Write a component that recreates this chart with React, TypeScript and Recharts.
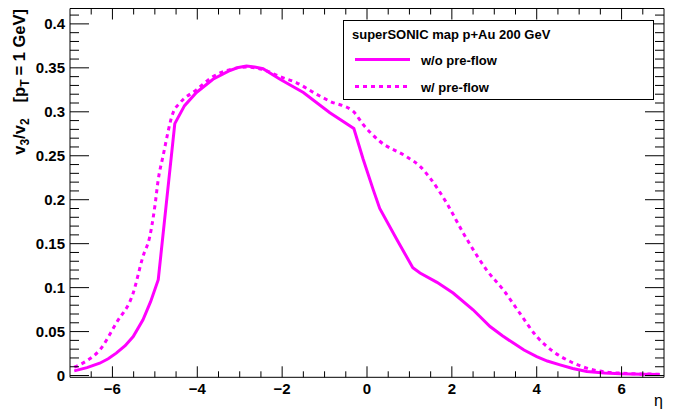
import { Legend, Line, LineChart, XAxis, YAxis } from 'recharts'

// eta values and v3/v2
const etaNoPreflow = [
  -6.9, -6.6, -6.3, -6.1, -5.91, -5.7, -5.51, -5.28, -5.1, -4.92, -4.53, -4.3,
  -4.02, -3.63, -3.23, -3.03, -2.84, -2.65, -2.45, -2.05, -1.5, -0.875, -0.31,
  -0.09, 0.146, 0.3, 0.7, 1.08, 1.25, 1.65, 2.03, 2.5, 2.9, 3.2, 3.45, 3.7, 4.0,
  4.25, 4.55, 4.85, 5.18, 5.6, 5.97, 6.5, 6.9,
]
const v32NoPreflow = [
  0.0053, 0.009, 0.014, 0.019, 0.0255, 0.034, 0.0444, 0.0634, 0.084, 0.109,
  0.2866, 0.307, 0.322, 0.337, 0.347, 0.3505, 0.352, 0.351, 0.349, 0.337, 0.322,
  0.299, 0.281, 0.246, 0.2115, 0.19, 0.155, 0.1226, 0.1166, 0.106, 0.0938,
  0.0748, 0.0558, 0.045, 0.0369, 0.029, 0.0216, 0.0165, 0.0122, 0.008, 0.0046,
  0.003, 0.002, 0.0015, 0.0012,
]

const etaPreflow = [
  -6.9, -6.6, -6.3, -5.91, -5.51, -5.28, -5.12, -5.0, -4.92, -4.81, -4.57,
  -4.41, -4.02, -3.63, -3.23, -2.84, -2.45, -2.05, -1.66, -1.19, -0.875, -0.33,
  -0.09, 0.3, 0.93, 1.25, 1.48, 1.88, 2.27, 2.43, 2.82, 3.21, 3.6, 4.0, 4.39,
  4.79, 5.18, 5.65, 5.97, 6.5, 6.9,
]
const v32Preflow = [
  0.0095, 0.017, 0.029, 0.0597, 0.094, 0.1355, 0.158, 0.1925, 0.223, 0.249,
  0.299, 0.31, 0.325, 0.34, 0.348, 0.351, 0.348, 0.34, 0.333, 0.32, 0.312,
  0.3007, 0.2855, 0.2665, 0.249, 0.238, 0.225, 0.196, 0.162, 0.149, 0.12,
  0.0976, 0.071, 0.0444, 0.0273, 0.016, 0.0084, 0.0039, 0.0027, 0.0018, 0.0015,
]

const X_DOMAIN = [-7, 7]
const Y_DOMAIN = [-0.002, 0.4175]
const xTicks = Array.from({ length: 27 }, (_, i) => -6.5 + i * 0.5)
const yTicks = Array.from({ length: 42 }, (_, i) => i / 100)

const FONT = '"Liberation Sans", Arial, Helvetica, sans-serif'
const MAGENTA = '#ff00ff'
const LEGEND_ORDER = ['w/o pre-flow', 'w/ pre-flow']

const noPreflow = etaNoPreflow.map((eta, i) => ({ eta, v: v32NoPreflow[i] }))
const preflow = etaPreflow.map((eta, i) => ({ eta, v: v32Preflow[i] }))

const isMajorX = (v: number) => Math.abs(v / 2 - Math.round(v / 2)) < 1e-6
const isMajorY = (v: number) => Math.round(v * 100) % 5 === 0
const fmtX = (v: number) => (v < 0 ? `\u2212${-v}` : `${v}`)

const BottomTick = ({ x, y, payload }: any) => {
  const major = isMajorX(payload.value)
  return (
    <g>
      <line x1={x} x2={x} y1={y} y2={y - (major ? 11 : 6)} stroke="#000" />
      {major && (
        <text x={x} y={y + 17} textAnchor="middle" fontFamily={FONT} fontWeight="bold" fontSize={15} fill="#000">
          {fmtX(payload.value)}
        </text>
      )}
    </g>
  )
}

const TopTick = ({ x, y, payload }: any) => (
  <line x1={x} x2={x} y1={y} y2={y + (isMajorX(payload.value) ? 11 : 6)} stroke="#000" />
)

const LeftTick = ({ x, y, payload }: any) => {
  const major = isMajorY(payload.value)
  return (
    <g>
      <line x1={x} x2={x + (major ? 19 : 9)} y1={y} y2={y} stroke="#000" />
      {major && (
        <text x={x - 5} y={y + 5.5} textAnchor="end" fontFamily={FONT} fontWeight="bold" fontSize={15} fill="#000">
          {payload.value}
        </text>
      )}
    </g>
  )
}

const RightTick = ({ x, y, payload }: any) => (
  <line x1={x} x2={x - (isMajorY(payload.value) ? 19 : 9)} y1={y} y2={y} stroke="#000" />
)

const YTitle = ({ viewBox }: any) => {
  const bx = viewBox.x + 15
  return (
    <text transform="rotate(-90)" x={-9} y={bx} textAnchor="end" fontFamily={FONT} fontWeight="bold" fontSize={16.5} fill="#000">
      <tspan>v</tspan>
      <tspan dy={4} fontSize={12}>3</tspan>
      <tspan dy={-4}>/v</tspan>
      <tspan dy={4} fontSize={12}>2</tspan>
      <tspan dy={-4} dx={16}>[p</tspan>
      <tspan dy={4} fontSize={12}>T</tspan>
      <tspan dy={-4} dx={4}>= 1 GeV]</tspan>
    </text>
  )
}

const XTitle = ({ viewBox }: any) => (
  <text x={viewBox.x + viewBox.width - 1} y={viewBox.y + 29} textAnchor="end" fontFamily={FONT} fontSize={16} fill="#000">
    η
  </text>
)

const LegendBox = ({ payload }: any) => {
  const items = [...(payload || [])].sort(
    (a: any, b: any) => LEGEND_ORDER.indexOf(a.value) - LEGEND_ORDER.indexOf(b.value),
  )
  return (
    <svg width={311} height={80} style={{ display: 'block' }}>
      <rect x={0.5} y={0.5} width={310} height={79} fill="#fff" stroke="#000" />
      <text x={9} y={19} fontFamily={FONT} fontWeight="bold" fontSize={13} fill="#000">
        superSONIC map p+Au 200 GeV
      </text>
      {items.map((entry: any, i: number) => (
        <g key={entry.value}>
          <line
            x1={12}
            x2={i === 0 ? 67 : 64}
            y1={39.5 + i * 27}
            y2={39.5 + i * 27}
            stroke={entry.color}
            strokeWidth={3}
            strokeDasharray={entry.payload?.strokeDasharray}
          />
          <text x={78} y={45 + i * 27} fontFamily={FONT} fontWeight="bold" fontSize={13} fill="#000">
            {entry.value}
          </text>
        </g>
      ))}
    </svg>
  )
}

export default function App() {
  return (
    <div style={{ position: 'absolute', left: 0, top: 0, background: '#fff' }}>
      <LineChart width={685} height={412} margin={{ top: 7.5, right: 20, bottom: 4.7, left: 10 }}>
        <XAxis
          dataKey="eta"
          type="number"
          domain={X_DOMAIN}
          allowDataOverflow
          ticks={xTicks}
          interval={0}
          tickSize={0}
          tickMargin={0}
          tick={<BottomTick />}
          axisLine={{ stroke: '#000' }}
          height={30}
          label={<XTitle />}
        />
        <XAxis
          xAxisId="top"
          orientation="top"
          dataKey="eta"
          type="number"
          domain={X_DOMAIN}
          allowDataOverflow
          ticks={xTicks}
          interval={0}
          tickSize={0}
          tickMargin={0}
          tick={<TopTick />}
          axisLine={{ stroke: '#000' }}
          height={1}
        />
        <YAxis
          type="number"
          domain={Y_DOMAIN}
          allowDataOverflow
          ticks={yTicks}
          interval={0}
          tickSize={0}
          tickMargin={0}
          tick={<LeftTick />}
          axisLine={{ stroke: '#000' }}
          width={60}
          label={<YTitle />}
        />
        <YAxis
          yAxisId="right"
          orientation="right"
          type="number"
          domain={Y_DOMAIN}
          allowDataOverflow
          ticks={yTicks}
          interval={0}
          tickSize={0}
          tickMargin={0}
          tick={<RightTick />}
          axisLine={{ stroke: '#000' }}
          width={1}
        />
        <Legend
          layout="horizontal"
          verticalAlign="middle"
          align="center"
          content={<LegendBox />}
          wrapperStyle={{ left: 343, top: 20, width: 311, height: 80 }}
        />
        <Line
          data={noPreflow}
          dataKey="v"
          name="w/o pre-flow"
          type="linear"
          stroke={MAGENTA}
          strokeWidth={3}
          dot={false}
          isAnimationActive={false}
        />
        <Line
          data={preflow}
          dataKey="v"
          name="w/ pre-flow"
          type="monotone"
          stroke={MAGENTA}
          strokeWidth={3}
          strokeDasharray="4 4"
          dot={false}
          isAnimationActive={false}
        />
      </LineChart>
    </div>
  )
}
